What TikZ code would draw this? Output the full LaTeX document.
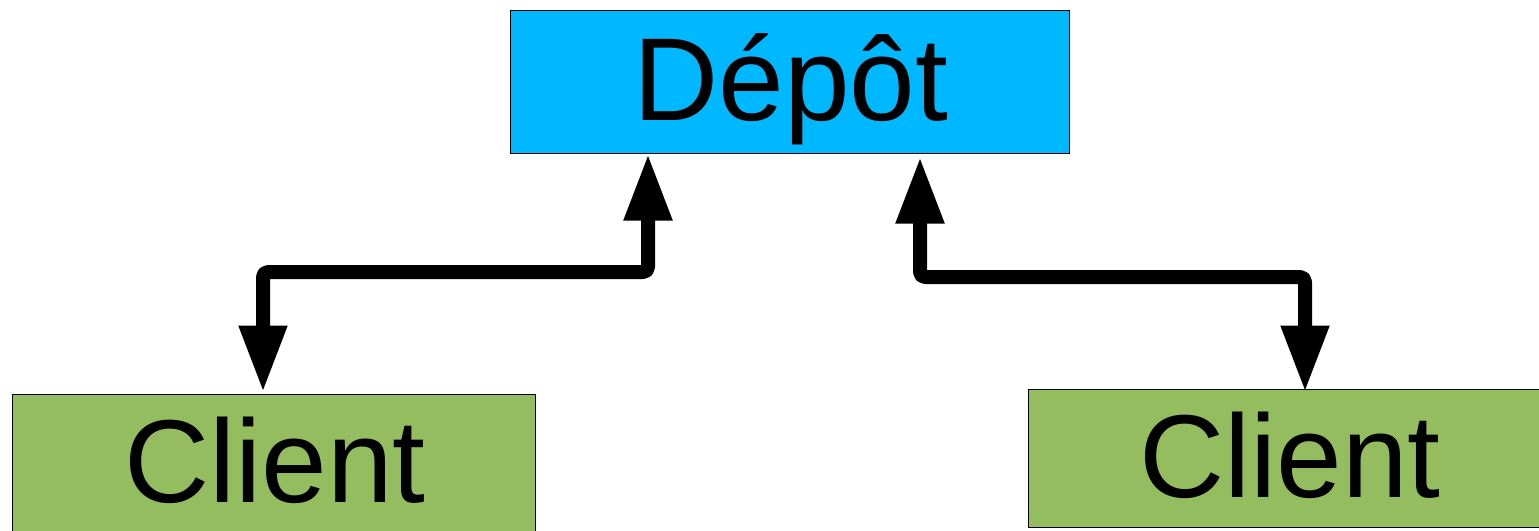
\documentclass[tikz,border=0pt]{standalone}
\usepackage{fontspec}
\setmainfont{Liberation Sans}
\usetikzlibrary{arrows.meta}
\definecolor{depotblue}{RGB}{0,184,255}
\definecolor{clientgreen}{RGB}{148,189,95}
\tikzset{
  box/.style={draw=black, line width=1pt, rectangle, inner sep=0pt},
  lbl/.style={anchor=base, inner sep=0pt, font=\fontsize{118pt}{118pt}\selectfont},
  conn/.style={line width=14pt, rounded corners=5pt, line join=round,
    {Triangle[length=67pt,width=45pt]}-{Triangle[length=67pt,width=45pt]}}
}
\begin{document}
\begin{tikzpicture}[x=1pt,y=-1pt]
\useasboundingbox (0,0) rectangle (1539,530);
\node[box, fill=depotblue, minimum width=559pt, minimum height=143pt] (depot) at (789.5,81.5) {};
\node[box, fill=clientgreen, minimum width=523pt, minimum height=140pt] (cl1) at (273.5,464) {};
\node[box, fill=clientgreen, minimum width=514pt, minimum height=138pt] (cl2) at (1285,458) {};
\node[lbl] (tdepot) at (791,120) {Dépôt};
\node[lbl] (tcl1) at (275,502) {Client};
\node[lbl] (tcl2) at (1290,497) {Client};
\coordinate (a1) at (648,272);
\coordinate (a2) at (263,272);
\coordinate (b1) at (920,277);
\coordinate (b2) at (1305,277);
\draw[conn, shorten <=0pt, shorten >=1pt] (depot.south -| a1) -- (a1) -- (a2) -- (cl1.north -| a2);
\draw[conn, shorten <=3pt, shorten >=-4pt] (depot.south -| b1) -- (b1) -- (b2) -- (cl2.north -| b2);
\end{tikzpicture}
\end{document}
